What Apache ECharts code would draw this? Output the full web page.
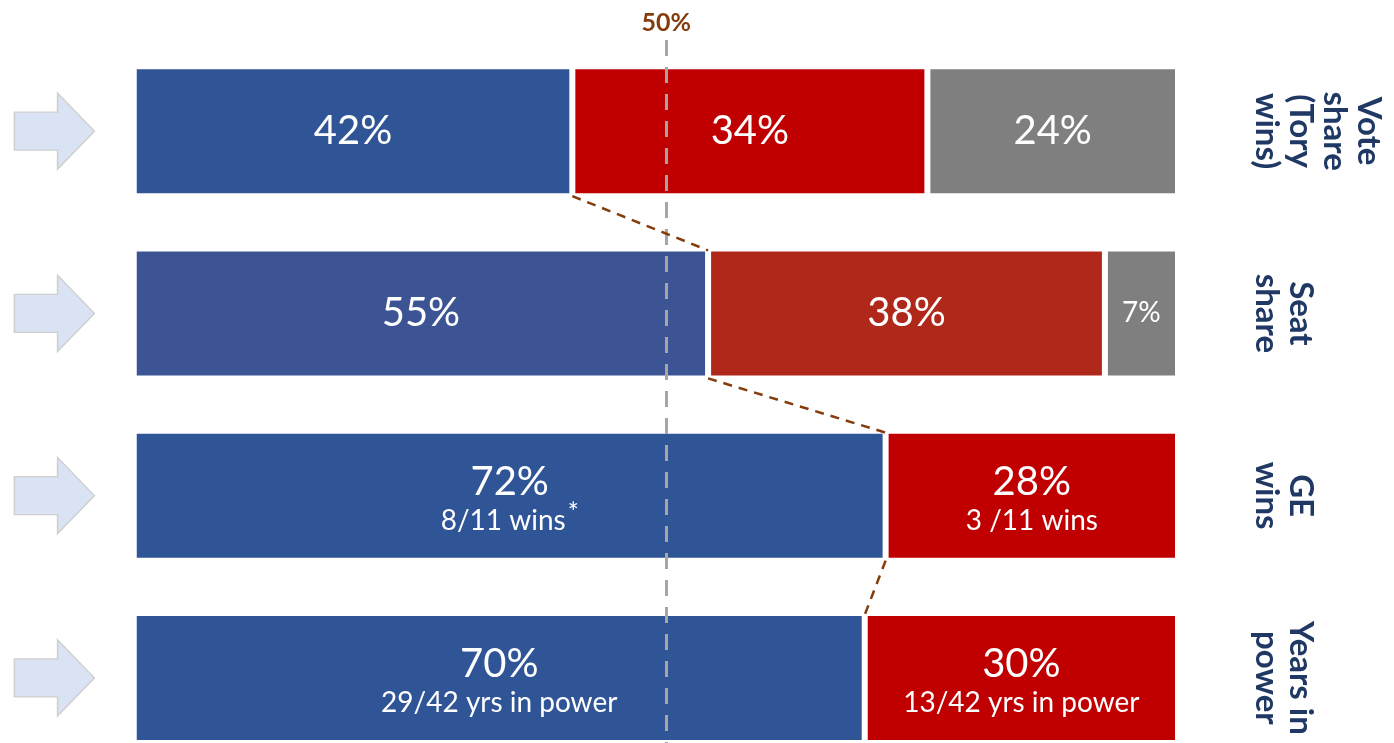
<!DOCTYPE html>
<html>
<head>
<meta charset="utf-8">
<script src="https://cdn.jsdelivr.net/npm/echarts@6/dist/echarts.min.js"></script>
<style>html,body{margin:0;padding:0;background:#fff}#c{width:1394px;height:743px}</style>
</head>
<body>
<div id="c"></div>
<script>
// ---- data ----
const categories = ['Vote\nshare\n(Tory\nwins)', 'Seat\nshare', 'GE\nwins', 'Years in\npower'];
const tory   = [42, 55, 72, 70];
const labour = [34, 38, 28, 30];
const other  = [24, 7, null, null];
const torySub   = ['', '', '8/11 wins', '29/42 yrs in power'];
const toryStar  = ['', '', '*', ''];
const labourSub = ['', '', '3 /11 wins', '13/42 yrs in power'];
const refLine = 51;          // dashed reference line (labelled 50%)
const refLabel = '50%';

// ---- styles ----
const toryColors   = ['#2F5597', '#3C5394', '#2F5597', '#2F5597'];
const labourColors = ['#C00000', '#B0281A', '#C00000', '#C00000'];
const otherColor = '#7F7F7F';
const FONT = 'Lato';
const BAR_W = 130, BORDER = 3;
const HALF_VIS = (BAR_W - 2 * BORDER) / 2;
const ARROW_X = -7.6;

const rich = {
  big:   { fontFamily: FONT, fontSize: 40, color: '#fff', lineHeight: 48 },
  big2:  { fontFamily: FONT, fontSize: 40, color: '#fff', lineHeight: 50, padding: [12, 0, 0, 0] },
  mid:   { fontFamily: FONT, fontSize: 28, color: '#fff', lineHeight: 34 },
  small: { fontFamily: FONT, fontSize: 28, color: '#fff', lineHeight: 40 },
  sup:   { fontFamily: FONT, fontSize: 26, color: '#fff', lineHeight: 40, verticalAlign: 'top', padding: [0, 0, 10, 2] }
};

function mkLabel(subs, stars) {
  return {
    show: true, position: 'inside', rich: rich,
    formatter: p => {
      if (p.value == null) return '';
      const sub = subs ? subs[p.dataIndex] : '';
      const st = stars ? stars[p.dataIndex] : '';
      if (!sub) return (p.value < 10 ? '{mid|' : '{big|') + p.value + '%}';
      return '{big2|' + p.value + '%}\n{small|' + sub + '}' + (st ? '{sup|' + st + '}' : '');
    }
  };
}

const connectors = [];
for (let i = 0; i < tory.length - 1; i++) connectors.push([tory[i], i, tory[i + 1], i + 1]);

const chart = echarts.init(document.getElementById('c'));
chart.setOption({
  animation: false,
  grid: { left: -2, right: 216, top: 40, bottom: -26, outerBoundsMode: 'none', containLabel: false },
  xAxis: { type: 'value', min: -13, max: 100, show: false },
  yAxis: {
    type: 'category', data: categories, inverse: true, position: 'right',
    axisLine: { show: false }, axisTick: { show: false }, splitLine: { show: false },
    axisLabel: {
      rotate: -90, margin: 72, color: '#1F3864', fontFamily: FONT, fontWeight: 'bold',
      fontSize: 33, lineHeight: 34, align: 'center', verticalAlign: 'bottom'
    }
  },
  series: [
    {
      type: 'bar', stack: 'a', barWidth: BAR_W,
      data: tory.map((v, i) => ({ value: v, itemStyle: { color: toryColors[i] } })),
      itemStyle: { borderColor: '#fff', borderWidth: BORDER },
      label: mkLabel(torySub, toryStar),
      markLine: {
        silent: true, symbol: 'none',
        lineStyle: { color: '#A6A6A6', type: [16, 11], width: 3 },
        label: {
          show: true, position: 'start', distance: 5,
          formatter: '{t|' + refLabel + '}',
          rich: { t: { color: '#843C0C', fontFamily: FONT, fontWeight: 'bold', fontSize: 25 } }
        },
        data: [{ xAxis: refLine }]
      }
    },
    {
      type: 'bar', stack: 'a', barWidth: BAR_W,
      data: labour.map((v, i) => ({ value: v, itemStyle: { color: labourColors[i] } })),
      itemStyle: { borderColor: '#fff', borderWidth: BORDER },
      label: mkLabel(labourSub, null)
    },
    {
      type: 'bar', stack: 'a', barWidth: BAR_W,
      data: other,
      itemStyle: { color: otherColor, borderColor: '#fff', borderWidth: BORDER },
      label: mkLabel(null, null)
    },
    {
      type: 'custom', silent: true, z: 5,
      data: connectors,
      encode: { x: [0, 2], y: [1, 3] },
      renderItem: (params, api) => {
        const p1 = api.coord([api.value(0), api.value(1)]);
        const p2 = api.coord([api.value(2), api.value(3)]);
        return {
          type: 'line',
          shape: { x1: p1[0], y1: p1[1] + HALF_VIS + 3, x2: p2[0], y2: p2[1] - HALF_VIS - 1 },
          style: { stroke: '#843C0C', lineWidth: 2.5, lineDash: [9, 7] }
        };
      }
    },
    {
      type: 'scatter', silent: true,
      data: categories.map((c, i) => [ARROW_X, i]),
      symbol: 'path://M0,25 L54,25 L54,0 L100,50 L54,100 L54,75 L0,75 Z',
      symbolSize: [80, 76],
      itemStyle: { color: '#DAE3F3', borderColor: '#CFCFCF', borderWidth: 1.5, opacity: 1 }
    }
  ]
});
</script>
</body>
</html>
